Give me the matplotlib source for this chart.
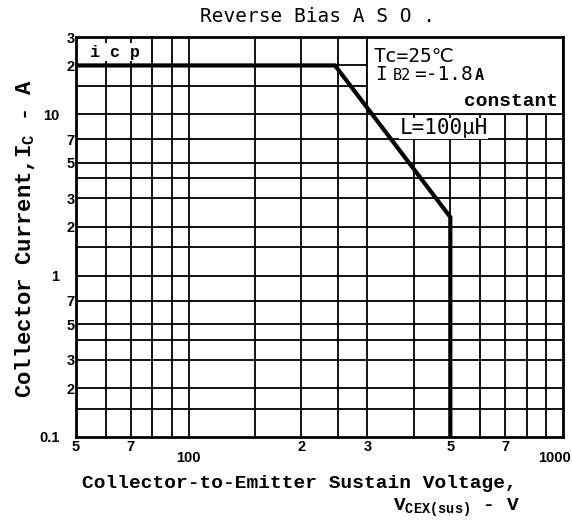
import matplotlib
matplotlib.use("Agg")
import matplotlib.pyplot as plt
from matplotlib.patches import Rectangle
from matplotlib import font_manager
import matplotlib.transforms as mtransforms

# ---------------- data ----------------
volts = [50, 246, 500, 500]          # V_CEX(sus) (V)
amps = [20, 20, 2.3, 0.1]            # I_C (A)

x_grid = [60, 70, 80, 90, 100, 150, 200, 250, 300, 400, 500, 600, 700, 800, 900]
y_grid = [0.15, 0.2, 0.3, 0.4, 0.5, 0.7, 1, 1.5, 2, 3, 4, 5, 7, 10, 15, 20]

x_major = [100, 1000]
x_major_labels = ["100", "1000"]
x_minor = [50, 70, 200, 300, 500, 700]
x_minor_labels = ["5", "7", "2", "3", "5", "7"]

y_major = [0.1, 1, 10]
y_major_labels = ["0.1", "1", "10"]
y_minor = [0.2, 0.3, 0.5, 0.7, 2, 3, 5, 7, 20, 30]
y_minor_labels = ["2", "3", "5", "7", "2", "3", "5", "7", "2", "3"]

title = "Reverse Bias A S O ."
xlabel1 = "Collector-to-Emitter Sustain Voltage,"
ylabel = r"Collector Current,I$_{\mathbf{C}}$ - A"

# ---------------- fonts ----------------
available = {f.name for f in font_manager.fontManager.ttflist}
def pick(*names):
    for n in names:
        if n in available:
            return n
    return "DejaVu Sans"

tick_font = pick("Liberation Sans Narrow", "Liberation Sans", "DejaVu Sans")
mono = pick("Liberation Mono", "DejaVu Sans Mono")
sansmono = pick("DejaVu Sans Mono")

plt.rcParams["mathtext.fontset"] = "custom"
plt.rcParams["mathtext.rm"] = mono
plt.rcParams["mathtext.bf"] = mono + ":bold"
plt.rcParams["mathtext.it"] = mono

W, H = 572, 527
fig = plt.figure(figsize=(W / 100, H / 100), dpi=100)
ax = fig.add_axes([76 / W, 1 - 437 / H, 487 / W, 400 / H])
ax.set_xscale("log")
ax.set_yscale("log")
ax.set_xlim(50, 1000)
ax.set_ylim(0.1, 30)

for v in x_grid:
    ax.axvline(v, color="black", lw=1.3, zorder=1)
for v in y_grid:
    ax.axhline(v, color="black", lw=1.3, zorder=1)

for s in ax.spines.values():
    s.set_linewidth(2)
    s.set_zorder(5)

# annotation box in the upper right (white, hides grid)
ax.add_patch(Rectangle((300, 10), 700, 20, facecolor="white", edgecolor="black",
                       lw=1.3, zorder=2))

ax.plot(volts, amps, color="black", lw=3, zorder=4, solid_joinstyle="miter")

# ticks
ax.set_xticks(x_major, x_major_labels)
ax.set_xticks(x_minor, x_minor_labels, minor=True)
ax.set_yticks(y_major, y_major_labels)
ax.set_yticks(y_minor, y_minor_labels, minor=True)
ax.tick_params(which="both", length=0, labelsize=10.5)
ax.tick_params(axis="x", which="major", pad=10)
ax.tick_params(axis="x", which="minor", pad=2)
ax.tick_params(axis="y", which="major", pad=12)
ax.tick_params(axis="y", which="minor", pad=1)
for lab in ax.get_xticklabels(which="both") + ax.get_yticklabels(which="both"):
    lab.set_fontfamily(tick_font)
    lab.set_fontweight("bold")

mt = ax.xaxis.get_major_ticks()
mt[1].label1.set_horizontalalignment("right")
mt[1].label1.set_transform(mt[1].label1.get_transform() +
                           mtransforms.ScaledTranslation(8 / 100, 0, fig.dpi_scale_trans))

# texts
fig.text(318 / W, 1 - 16 / H, title, ha="center", va="center",
         fontsize=14, family=sansmono)
ax.text(0.08, 0.962, "i c p", transform=ax.transAxes, ha="center", va="center",
        fontsize=12, family=mono, fontweight="bold",
        bbox=dict(facecolor="white", edgecolor="none", pad=1), zorder=3)
ax.text(0.61, 0.952, "Tc=25℃", transform=ax.transAxes, ha="left", va="center",
        fontsize=14, family=[sansmono, "DejaVu Sans"], zorder=3)
ax.text(0.615, 0.893, "I", transform=ax.transAxes, ha="left", va="baseline",
        fontsize=14, family=sansmono, zorder=3)
ax.text(0.65, 0.893, "B2", transform=ax.transAxes, ha="left", va="baseline",
        fontsize=11, family=sansmono, zorder=3)
ax.text(0.695, 0.893, "=-1.8", transform=ax.transAxes, ha="left", va="baseline",
        fontsize=14, family=sansmono, zorder=3)
ax.text(0.818, 0.893, "A", transform=ax.transAxes, ha="left", va="baseline",
        fontsize=11, family=sansmono, fontweight="bold", zorder=3)
ax.text(0.99, 0.84, "constant", transform=ax.transAxes, ha="right", va="center",
        fontsize=14, family=mono, fontweight="bold", zorder=3)
ax.text(0.755, 0.772, "L=100μH", transform=ax.transAxes, ha="center", va="center",
        fontsize=15, family=[sansmono, "DejaVu Sans"], zorder=3,
        bbox=dict(facecolor="white", edgecolor="none", pad=0.5))

fig.text(82 / W, 1 - 483 / H, xlabel1, ha="left", va="center",
         fontsize=14, family=mono, fontweight="bold")
fig.text(520 / W, 1 - 508 / H, r"V$_{\mathbf{CEX(sus)}}$ - V", ha="right", va="center",
         fontsize=14, family=mono, fontweight="bold")
fig.text(25 / W, 1 - 238 / H, ylabel, rotation=90, ha="center", va="center",
         fontsize=16, family=mono, fontweight="bold")

fig.savefig("out.png", dpi=100)
